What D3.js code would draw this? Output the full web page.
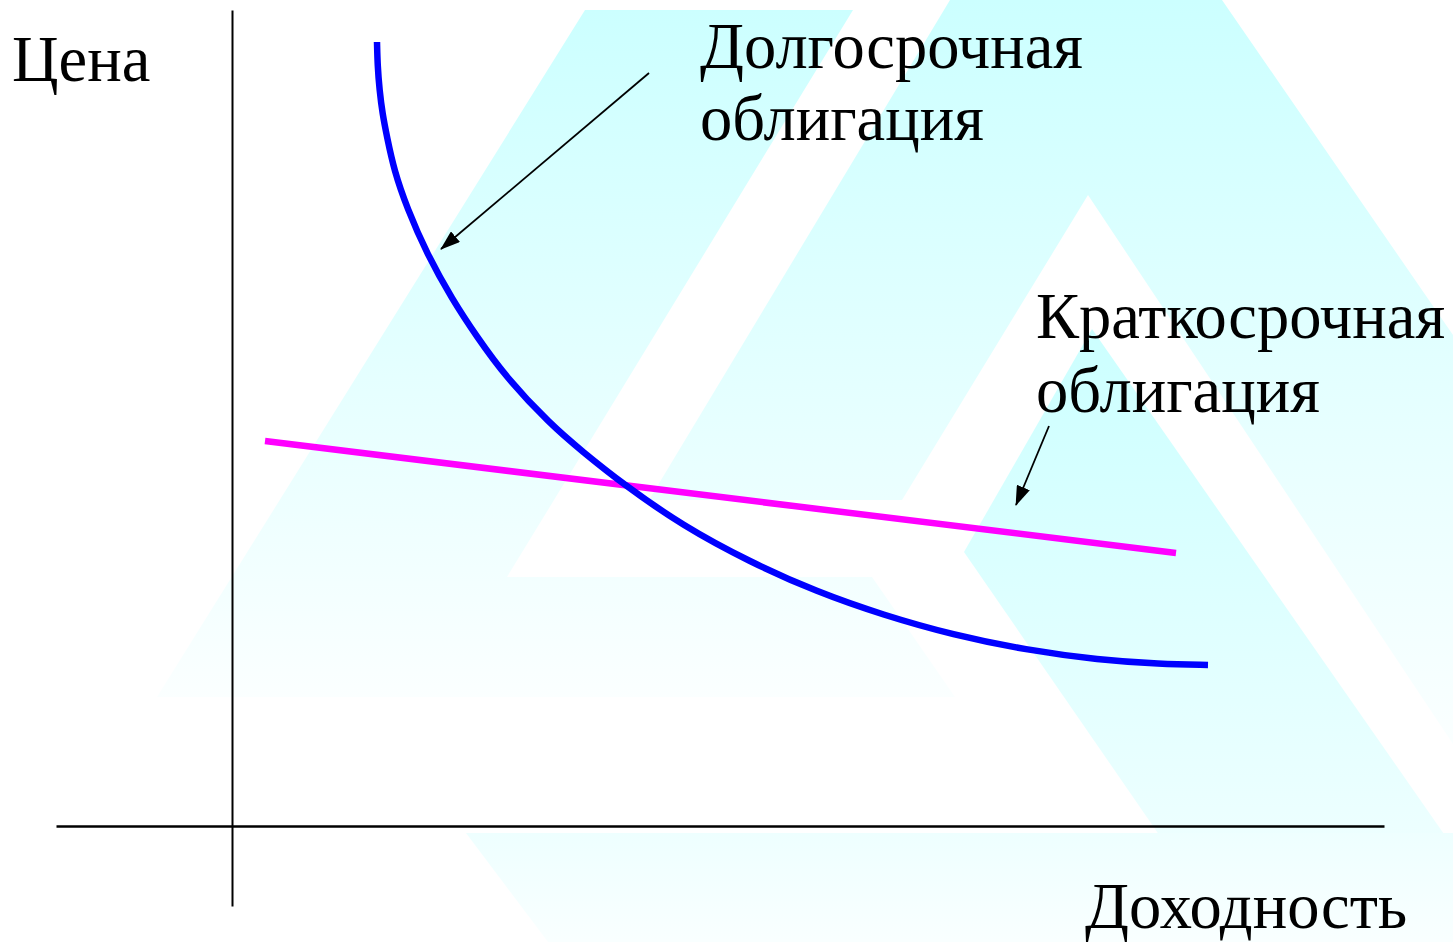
<!DOCTYPE html>
<html>
<head>
<meta charset="utf-8">
<script src="https://cdn.jsdelivr.net/npm/d3@7"></script>
<style>
  body { margin: 0; background: #fff; }
  svg { display: block; }
  text { font-family: "Liberation Serif", "Times New Roman", serif; fill: #000; }
</style>
</head>
<body>
<div id="chart"></div>
<script>
// long bond: price vs yield (convex curve)
const longYield = [14.5, 14.56, 14.75, 15.05, 15.5, 16.2, 17.5, 19.5, 22.0, 24.5, 27.3, 31.8, 35.1, 39.1, 45.1, 51.8, 58.5, 65.1, 72.1, 79.4, 86.7, 92.8, 97.6];
const longPrice = [78.4, 76.0, 73.6, 71.2, 68.9, 65.6, 61.8, 57.2, 52.7, 48.9, 45.0, 40.2, 37.4, 34.2, 30.0, 26.4, 23.4, 21.1, 19.1, 17.6, 16.6, 16.2, 16.1];
// short bond: almost flat line
const shortYield = [3.3, 94.4];
const shortPrice = [38.5, 27.3];

const axisNames = ["Цена", "Доходность"];
const longLabel = ["Долгосрочная", "облигация"];
const shortLabel = ["Краткосрочная", "облигация"];

var width = 1453,
  height = 942;

// axis extents (in chart units)
var x = d3.scaleLinear().domain([-17.6, 115.2]).range([56, 1384]);
var y = d3.scaleLinear().domain([-8, 81.6]).range([906, 10]);

const svg = d3
  .select("#chart")
  .append("svg")
  .attr("width", width)
  .attr("height", height);

var defs = svg.append("defs");

// background template decoration (light cyan "A" shapes, pixel space)
function fade(id, y1, y2) {
  var g = defs
    .append("linearGradient")
    .attr("id", id)
    .attr("gradientUnits", "userSpaceOnUse")
    .attr("x1", 0).attr("x2", 0)
    .attr("y1", y1).attr("y2", y2);
  g.append("stop").attr("offset", 0).attr("stop-color", "#ccffff");
  g.append("stop").attr("offset", 1).attr("stop-color", "#ffffff");
}
fade("fadeLeft", 10, 760);
fade("fadeBig", 0, 820);
fade("fadeBand", 329, 1120);
fade("fadeLow", 500, 1000);

var decor = [
  { fill: "fadeLeft", pts: [[585, 10], [853, 10], [507, 577], [872, 577], [955, 697], [157, 697]] },
  { fill: "fadeBig", pts: [[950, 0], [1222, 0], [1453, 335], [1453, 744], [1088, 195], [902, 500], [649, 500]] },
  { fill: "fadeBand", pts: [[1092, 329], [964, 552], [1233, 942], [1453, 942], [1453, 847]] },
  { fill: "fadeLow", pts: [[466, 833], [1453, 833], [1453, 942], [548, 942]] },
];

svg
  .append("g")
  .selectAll("polygon")
  .data(decor)
  .enter()
  .append("polygon")
  .attr("points", function (d) {
    return d.pts.join(" ");
  })
  .style("fill", function (d) {
    return "url(#" + d.fill + ")";
  });

// arrow head
defs
  .append("marker")
  .attr("id", "arrow")
  .attr("markerUnits", "userSpaceOnUse")
  .attr("viewBox", "0 0 20 14")
  .attr("refX", 19)
  .attr("refY", 7)
  .attr("markerWidth", 20)
  .attr("markerHeight", 14)
  .attr("orient", "auto")
  .append("path")
  .attr("d", "M0,0 L20,7 L0,14 z")
  .style("fill", "#000");

// axes: just the crossing lines, no ticks
svg
  .append("g")
  .attr("class", "x axis")
  .attr("transform", "translate(0," + y(0) + ")")
  .call(d3.axisBottom(x).tickValues([]).tickSizeOuter(0))
  .select(".domain")
  .style("stroke", "#000")
  .style("stroke-width", 2.5);

svg
  .append("g")
  .attr("class", "y axis")
  .attr("transform", "translate(" + x(0) + ",0)")
  .call(d3.axisLeft(y).tickValues([]).tickSizeOuter(0))
  .select(".domain")
  .style("stroke", "#000")
  .style("stroke-width", 2);

var line = d3
  .line()
  .x(function (d) {
    return x(d[0]);
  })
  .y(function (d) {
    return y(d[1]);
  });

svg
  .append("path")
  .datum(d3.zip(shortYield, shortPrice))
  .attr("d", line)
  .style("stroke", "#ff00ff")
  .style("stroke-width", 6.5)
  .style("fill", "none");

svg
  .append("path")
  .datum(d3.zip(longYield, longPrice))
  .attr("d", line.curve(d3.curveBasis))
  .style("stroke", "#0000ff")
  .style("stroke-width", 6.5)
  .style("fill", "none");

// pointer arrows to each series
var pointers = [
  [[41.7, 75.3], [20.9, 57.7]],
  [[81.7, 40.0], [78.4, 32.1]],
];
svg
  .append("g")
  .selectAll("line")
  .data(pointers)
  .enter()
  .append("line")
  .attr("x1", function (d) { return x(d[0][0]); })
  .attr("y1", function (d) { return y(d[0][1]); })
  .attr("x2", function (d) { return x(d[1][0]); })
  .attr("y2", function (d) { return y(d[1][1]); })
  .style("stroke", "#000")
  .style("stroke-width", 1.8)
  .attr("marker-end", "url(#arrow)");

// labels
var labels = [
  { t: axisNames[0], x: -22.0, y: 74.5 },
  { t: axisNames[1], x: 85.3, y: -10.2 },
  { t: longLabel[0], x: 46.8, y: 75.8 },
  { t: longLabel[1], x: 46.8, y: 68.6 },
  { t: shortLabel[0], x: 80.4, y: 48.8 },
  { t: shortLabel[1], x: 80.4, y: 41.4 },
];
svg
  .append("g")
  .selectAll("text")
  .data(labels)
  .enter()
  .append("text")
  .attr("x", function (d) { return x(d.x); })
  .attr("y", function (d) { return y(d.y); })
  .text(function (d) { return d.t; })
  .style("font-size", "64.5px");
</script>
</body>
</html>
